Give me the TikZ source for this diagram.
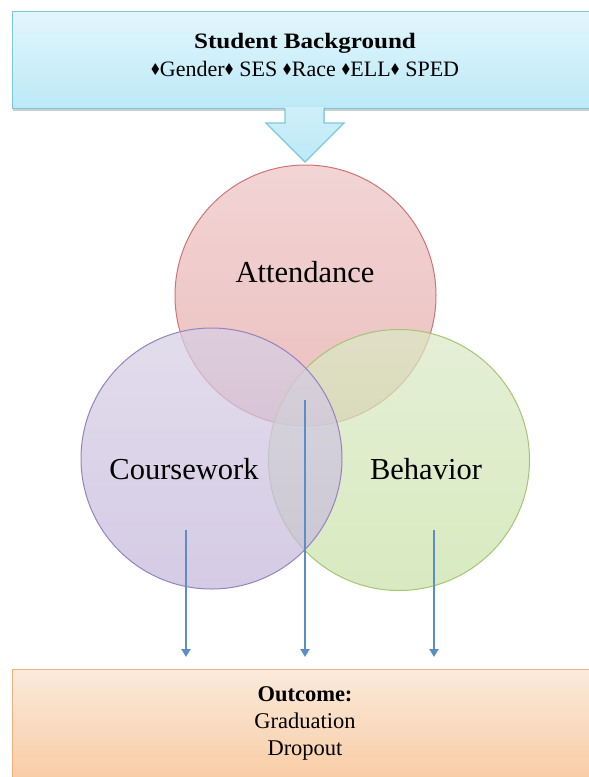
\documentclass[tikz,border=0pt]{standalone}
\usepackage{amssymb}
\usepackage{fontspec}
\setmainfont{Liberation Serif}
\newfontfamily\widefont[FakeStretch=1.14]{Liberation Serif}
\usetikzlibrary{arrows.meta,shadows}
\definecolor{bgtop}{HTML}{E2F6FC}
\definecolor{bgbot}{HTML}{BCE9F7}
\definecolor{bgline}{HTML}{7CC8DB}
\definecolor{outtop}{HTML}{FBEADB}
\definecolor{outbot}{HTML}{F8CBA2}
\definecolor{outline}{HTML}{F4B07C}
\definecolor{linkblue}{HTML}{5B8EC6}
\definecolor{atttop}{RGB}{237,196,196}
\definecolor{attbot}{RGB}{229,165,165}
\definecolor{attline}{HTML}{CF7474}
\definecolor{cwtop}{RGB}{215,208,229}
\definecolor{cwbot}{RGB}{196,183,218}
\definecolor{cwline}{HTML}{9583BF}
\definecolor{behtop}{RGB}{218,233,198}
\definecolor{behbot}{RGB}{201,226,168}
\definecolor{behline}{HTML}{A5C574}
\newcommand{\bul}{\raisebox{2.5pt}{\scalebox{0.62}{$\blacklozenge$}}}
\tikzset{
  banner/.style={draw=#1, line width=1.2pt, rectangle, anchor=north west,
    drop shadow={shadow xshift=0pt, shadow yshift=-2.5pt, opacity=0.35, fill=black!55}},
  circ/.style n args={3}{circle, minimum size=261pt, inner sep=0pt, draw=#1,
    line width=1pt, top color=#2, bottom color=#3, fill opacity=0.72,
    text opacity=1},
  ctext/.style={font=\fontsize{30.5}{34}\selectfont},
  btext/.style={font=\fontsize{22.5}{27}\selectfont, align=center},
  link/.style={draw=linkblue, line width=2pt, -{Triangle[length=8pt,width=9pt]}}
}
\begin{document}
\begin{tikzpicture}[x=1pt,y=-1pt]
\useasboundingbox (0,0) rectangle (589,777);

% background box with the student characteristics
\node[banner=bgline, top color=bgtop, bottom color=bgbot,
      minimum width=586pt, minimum height=97pt] (bg) at (12,11) {};
\node[font=\fontsize{22}{28}\selectfont, align=center] (bgtext) at (305,54.5)
  {{\widefont\bfseries Student Background}\\
   \bul Gender\bul{} SES \bul Race \bul ELL\bul{} SPED};

% block arrow feeding into the circles
\fill[top color=bgtop!50!bgbot, bottom color=bgbot] (285,107) -- (285,123) -- (266,123) -- (305,162)
  -- (344,123) -- (324,123) -- (324,107) -- cycle;
\draw[bgline, line width=1.2pt, line join=miter] (285,108.6) -- (285,123) -- (266,123) -- (305,162)
  -- (344,123) -- (324,123) -- (324,108.6);

% three overlapping factors (coursework lies on top)
\node[circ={attline}{atttop}{attbot}] (att) at (305.5,295.5) {};
\node[circ={behline}{behtop}{behbot}] (beh) at (399,460) {};
\node[circ={cwline}{cwtop}{cwbot}] (cw) at (211.5,458.5) {};
\node[ctext] (attl) at (305,272) {Attendance};
\node[ctext] (cwl) at (184,469) {Coursework};
\node[ctext] (behl) at (426,469) {Behavior};

% outcome box
\node[banner=outline, top color=outtop, bottom color=outbot,
      minimum width=586pt, minimum height=115pt] (out) at (12,669) {};
\node[btext] (outtext) at (305,723)
  {\textbf{Outcome:}\\Graduation\\Dropout};

% links to the outcome
\coordinate (c1) at (186,530);
\coordinate (c2) at (305,400);
\coordinate (c3) at (434,530);
\draw[link, shorten >=12pt] (c1) -- (c1 |- out.north);
\draw[link, shorten >=12pt] (c2) -- (c2 |- out.north);
\draw[link, shorten >=12pt] (c3) -- (c3 |- out.north);
\end{tikzpicture}
\end{document}
